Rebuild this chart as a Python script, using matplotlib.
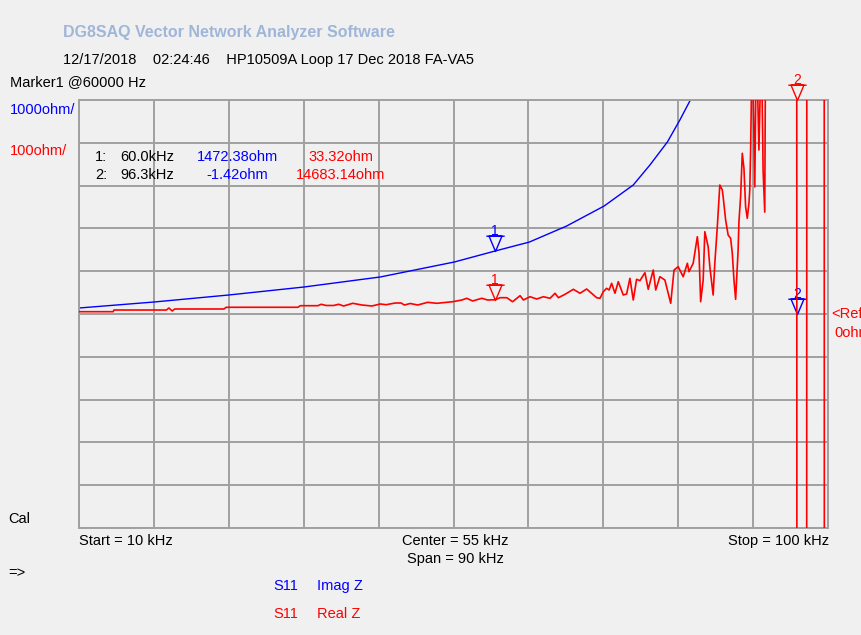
import matplotlib
matplotlib.use('Agg')
import numpy as np
import matplotlib.pyplot as plt
from matplotlib.path import Path

# S11 Imag Z (blue, 1000 ohm/div)
freq_imag = [10.0, 19.0, 28.0, 37.0, 46.2, 55.1, 60.0, 64.1, 68.6, 73.1,
             76.6, 78.6, 80.7, 82.2, 83.4, 84.5]
imag_z = [140, 280, 444, 630, 865, 1215, 1472, 1680, 2056, 2523,
          3014, 3481, 4019, 4533, 4977, 6000]

# S11 Real Z (red, 100 ohm/div)
freq_real = [10.0, 14.1, 14.2, 20.5, 20.8, 21.2, 21.5, 27.4, 27.7, 36.3,
             36.6, 38.7, 39.1, 39.7, 40.6, 41.2, 41.8, 42.9, 44.0, 45.2,
             46.2, 46.9, 48.0, 48.7, 49.1, 49.8, 50.7, 51.9, 53.0, 54.0,
             54.9, 56.0, 56.6, 57.3, 58.4, 59.1, 60.0, 60.6, 61.4, 62.1,
             63.0, 63.4, 64.2, 65.0, 65.8, 66.6, 67.2, 67.6, 68.4, 69.4,
             70.2, 71.0, 71.6, 72.2, 72.6, 73.0, 73.4, 73.7, 74.0, 74.4,
             74.8, 75.4, 75.8, 76.2, 76.6, 77.0, 77.4, 78.0, 78.4, 79.0,
             79.3, 79.8, 80.4, 81.1, 81.5, 82.0, 82.6, 83.1, 83.3, 83.8,
             84.3, 84.5, 84.7, 85.0, 85.2, 85.6, 85.8, 86.2, 86.4, 86.7,
             87.0, 87.3, 87.4, 87.7, 88.0, 88.3, 88.5, 88.7, 88.9, 89.2,
             89.3, 89.5, 89.7, 89.9, 90.1, 90.3, 90.5, 90.6, 90.7, 90.9,
             91.2, 91.4, 91.7, 92.0, 92.2, 92.4, 92.5, 93.5, 95.0, 96.0,
             96.25, 96.35, 97.35, 97.45, 97.55, 99.45, 99.55, 99.65, 100.0]
real_z = [5.4, 5.4, 9.3, 9.3, 14.0, 7.0, 11.7, 11.7, 15.7, 15.7,
          19.4, 19.4, 22.7, 19.9, 19.9, 22.7, 18.7, 25.0, 21.0, 18.7,
          23.4, 21.7, 25.7, 25.7, 21.0, 24.5, 21.0, 27.3, 25.0, 26.9,
          28.7, 32.7, 36.7, 30.4, 36.7, 32.7, 33.3, 38.1, 38.1, 28.7,
          42.8, 32.7, 40.4, 35.0, 40.4, 36.7, 48.4, 38.1, 46.0, 57.7,
          48.4, 58.4, 48.4, 38.1, 36.7, 52.1, 60.0, 56.1, 71.7, 48.4,
          75.5, 44.4, 46.7, 83.4, 32.7, 81.1, 77.8, 96.5, 57.7, 102.8,
          56.1, 87.1, 79.4, 25.0, 102.8, 110.5, 87.1, 118.5, 98.8, 118.5,
          180.6, 142.5, 28.7, 79.4, 192.3, 157.2, 110.5, 44.4, 118.5, 204.0,
          301.4, 289.7, 274.1, 219.6, 184.6, 176.9, 141.8, 79.4, 34.3, 149.5,
          215.6, 274.1, 375.5, 340.4, 250.7, 223.6, 258.6, 289.7, 379.2, 650,
          297, 650, 383, 650, 336, 238, 650, 2000, 6000, 9000,
          367, -9000, -9000, 370, 9000, 9000, 227, -9000, -9000]

marker_freq = [60.0, 96.3]
marker_imag = [1472.38, -1.42]
marker_real = [33.32, 14683.14]

BG = '#f0f0f0'
GRID = '#a0a0a0'
BLUE = '#0000ff'
RED = '#ff0000'
plt.rcParams['font.family'] = ['Liberation Sans', 'DejaVu Sans']

W, H = 861, 635
fig = plt.figure(figsize=(W / 100, H / 100), dpi=100, facecolor=BG)


def px(x, y):
    return x / W, 1 - y / H


x0, x1, y0, y1 = 79, 828, 100, 528
ax = fig.add_axes([x0 / W, 1 - y1 / H, (x1 - x0) / W, (y1 - y0) / H])
ax.set_facecolor(BG)
ax.set_xlim(10, 100)
ax.set_ylim(-5000, 5000)
ax.set_xticks(np.linspace(10, 100, 11))
ax.set_yticks(np.linspace(-5000, 5000, 11))
ax.tick_params(length=0, labelbottom=False, labelleft=False)
ax.grid(True, color=GRID, lw=1.4)
ax.set_axisbelow(True)
for s in ax.spines.values():
    s.set_color(GRID)
    s.set_linewidth(1.4)

ax2 = ax.twinx()
ax2.set_ylim(-500, 500)
ax2.tick_params(length=0, labelright=False)
for s in ax2.spines.values():
    s.set_visible(False)

ax.plot(freq_imag, imag_z, color=BLUE, lw=1.0)
ax2.plot(freq_real, real_z, color=RED, lw=1.2)

# marker glyph: down triangle with bar, tip at the point
tri = Path([(0, 0), (-0.42, 1), (0.42, 1), (0, 0), (-0.6, 1), (0.6, 1)],
           [Path.MOVETO, Path.LINETO, Path.LINETO, Path.CLOSEPOLY,
            Path.MOVETO, Path.LINETO])


def vna_marker(a, f, v, label, color):
    a.plot([f], [v], marker=tri, ms=22, mfc='none', mec=color, mew=1.0,
           ls='none', clip_on=False, zorder=5)
    a.annotate(label, (f, v), xytext=(0, 14.5), textcoords='offset points',
               ha='center', va='center', color=color, fontsize=10,
               annotation_clip=False)


vna_marker(ax, marker_freq[0], marker_imag[0], '1', BLUE)
vna_marker(ax2, marker_freq[0], marker_real[0], '1', RED)
vna_marker(ax, marker_freq[1], marker_imag[1], '2', BLUE)
vna_marker(ax2, marker_freq[1], min(marker_real[1], 500), '2', RED)

fs = 10.5
fig.text(*px(63, 32), 'DG8SAQ Vector Network Analyzer Software', color='#9fb6d9',
         fontsize=11.5, fontweight='bold', va='center')
fig.text(*px(63, 60), '12/17/2018    02:24:46    HP10509A Loop 17 Dec 2018 FA-VA5',
         fontsize=fs, va='center')
fig.text(*px(10, 82), 'Marker1 @60000 Hz', fontsize=fs, va='center')
fig.text(*px(10, 110), '1000ohm/', color=BLUE, fontsize=fs, va='center')
fig.text(*px(10, 151), '100ohm/', color=RED, fontsize=fs, va='center')

rows = [(157, '1:', '60.0kHz'), (175, '2:', '96.3kHz')]
for (yy, n, fq), vi, vr in zip(rows, marker_imag, marker_real):
    fig.text(*px(95, yy), n, fontsize=fs, va='center')
    fig.text(*px(120, yy), fq, fontsize=fs, va='center')
    fig.text(*px(237, yy), f'{vi:.2f}ohm', color=BLUE, fontsize=fs,
             va='center', ha='center')
    fig.text(*px(341, yy), f'{vr:.2f}ohm', color=RED, fontsize=fs,
             va='center', ha='center')

# the reference screenshot cuts these two at its right edge
fig.text(*px(831, 314), '<Ref', color=RED, fontsize=fs, va='center')
fig.text(*px(834, 333), '0ohm', color=RED, fontsize=fs, va='center')
fig.text(*px(8, 519), 'Cal', fontsize=fs, va='center')
fig.text(*px(79, 541), 'Start = 10 kHz', fontsize=fs, va='center')
fig.text(*px(455, 541), 'Center = 55 kHz', fontsize=fs, va='center', ha='center')
fig.text(*px(455, 559), 'Span = 90 kHz', fontsize=fs, va='center', ha='center')
fig.text(*px(829, 541), 'Stop = 100 kHz', fontsize=fs, va='center', ha='right')
fig.text(*px(8, 573), '=>', fontsize=fs, va='center')
fig.text(*px(273, 586), 'S11', color=BLUE, fontsize=fs, va='center')
fig.text(*px(317, 586), 'Imag Z', color=BLUE, fontsize=fs, va='center')
fig.text(*px(273, 614), 'S11', color=RED, fontsize=fs, va='center')
fig.text(*px(317, 614), 'Real Z', color=RED, fontsize=fs, va='center')

fig.savefig('out.png', dpi=100, facecolor=BG)
